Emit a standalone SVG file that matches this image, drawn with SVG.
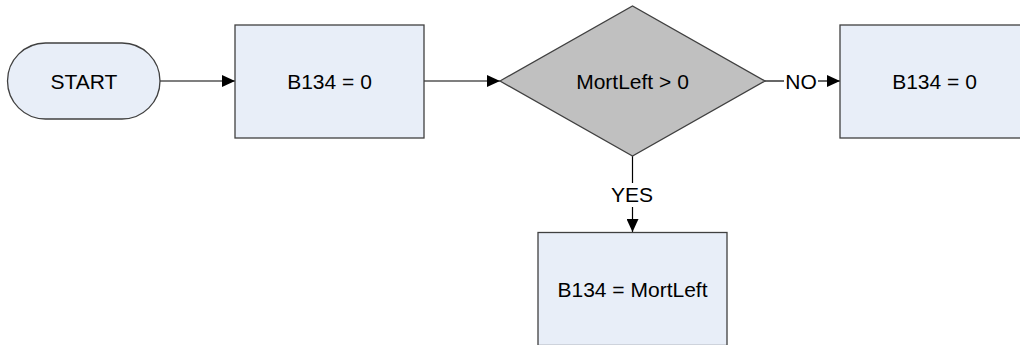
<svg xmlns="http://www.w3.org/2000/svg" width="1020" height="345" viewBox="0 0 1020 345">
<defs>
<style>
.box{fill:#e8eef8;stroke:#404040;stroke-width:1.3}
.dec{fill:#c0c0c0;stroke:#404040;stroke-width:1.3}
.lbl{font-family:"Liberation Sans",Arial,sans-serif;font-size:21px;fill:#000;text-anchor:middle;dominant-baseline:central}
.edge{stroke:#000;stroke-width:1.2;fill:none}
</style>
<marker id="arr" markerWidth="13" markerHeight="12" refX="13" refY="6" orient="auto" markerUnits="userSpaceOnUse">
<path d="M0,0 L13,6 L0,12 Z" fill="#000"/>
</marker>
</defs>
<rect width="1020" height="345" fill="#fff"/>
<g id="connectors">
<line class="edge" x1="160" y1="81" x2="235" y2="81" marker-end="url(#arr)"/>
<line class="edge" x1="424" y1="81" x2="500" y2="81" marker-end="url(#arr)"/>
<line class="edge" x1="765" y1="81" x2="784" y2="81"/>
<text class="lbl" x="801" y="81">NO</text>
<line class="edge" x1="818" y1="81" x2="840" y2="81" marker-end="url(#arr)"/>
<line class="edge" x1="632.5" y1="156" x2="632.5" y2="183"/>
<text class="lbl" x="632" y="194">YES</text>
<line class="edge" x1="632.5" y1="207" x2="632.5" y2="232" marker-end="url(#arr)"/>
</g>
<g id="start">
<rect class="box" x="7.5" y="43" width="152.5" height="76" rx="38" ry="38"/>
<text class="lbl" x="84" y="81">START</text>
</g>
<g id="b134zero1">
<rect class="box" x="235" y="25" width="189" height="113"/>
<text class="lbl" x="329.5" y="81">B134 = 0</text>
</g>
<g id="decision">
<polygon class="dec" points="500,81 632.5,6 765,81 632.5,156"/>
<text class="lbl" x="632.5" y="81">MortLeft &gt; 0</text>
</g>
<g id="b134zero2">
<rect class="box" x="840" y="25" width="189" height="113"/>
<text class="lbl" x="934.5" y="81">B134 = 0</text>
</g>
<g id="b134mort">
<rect class="box" x="538" y="232.5" width="189" height="113"/>
<text class="lbl" x="632.5" y="289">B134 = MortLeft</text>
</g>
</svg>
